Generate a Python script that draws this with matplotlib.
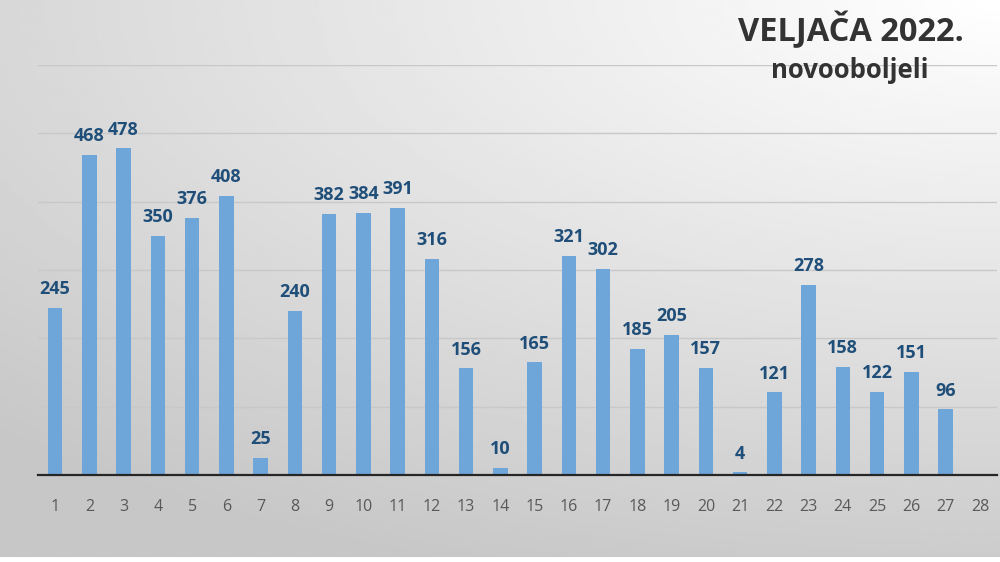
import numpy as np
import matplotlib.pyplot as plt

# data
days = [str(d) for d in range(1, 29)]
values = [245, 468, 478, 350, 376, 408, 25, 240, 382, 384, 391, 316, 156, 10,
          165, 321, 302, 185, 205, 157, 4, 121, 278, 158, 122, 151, 96, None]

BAR = '#6fa6da'
LABEL = '#1f4e79'

fig = plt.figure(figsize=(10, 5.62), dpi=100)

# gradient background: white top right, grey towards left and bottom
bg = fig.add_axes([0, 5 / 562, 1, 557 / 562])
yy, xx = np.mgrid[0:1:200j, 0:1:300j]
dist = np.sqrt((1 - xx) ** 2 * 0.6 + (yy) ** 2)
shade = 1.0 - 0.22 * np.clip(dist / 1.1, 0, 1)
bg.imshow(shade, cmap='gray', vmin=0, vmax=1, aspect='auto',
          extent=[0, 1, 0, 1], origin='upper')
bg.axhline(0, color='#bfbfbf', lw=1)
bg.set_axis_off()

ax = fig.add_axes([0.038, 87 / 562, 0.959, 410 / 562])
ax.patch.set_alpha(0)
x = np.arange(len(days))
vals = [v if v is not None else 0 for v in values]
ax.bar(x, vals, width=0.42, color=BAR, zorder=3)
for xi, v in zip(x, values):
    if v is None:
        continue
    ax.annotate(str(v), (xi, v), xytext=(0, 7), textcoords='offset points',
                ha='center', va='bottom', fontsize=13, fontweight='bold',
                color=LABEL, family='Open Sans')

ax.set_xlim(-0.5, len(days) - 0.5)
ax.set_ylim(0, 600)
ax.set_yticks(range(0, 601, 100))
ax.yaxis.grid(True, color='#c8c8c8', lw=1, zorder=0)
ax.tick_params(left=False, labelleft=False, bottom=False)
ax.set_xticks(x)
ax.set_xticklabels(days, fontsize=11.5, color='#595959', family='Open Sans')
ax.tick_params(axis='x', pad=14)
for s in ['top', 'right', 'left']:
    ax.spines[s].set_visible(False)
ax.spines['bottom'].set_color('#262626')
ax.spines['bottom'].set_linewidth(1.6)
ax.spines['bottom'].set_zorder(4)

fig.text(0.851, 1 - 30 / 562, 'VELJAČA 2022.', ha='center', va='center',
         fontsize=23.5, fontweight='bold', color='#333333', family='Open Sans')
fig.text(0.850, 1 - 70 / 562, 'novooboljeli', ha='center', va='center',
         fontsize=18.5, fontweight='bold', color='#333333', family='Open Sans')

fig.savefig('out.png', dpi=100)
